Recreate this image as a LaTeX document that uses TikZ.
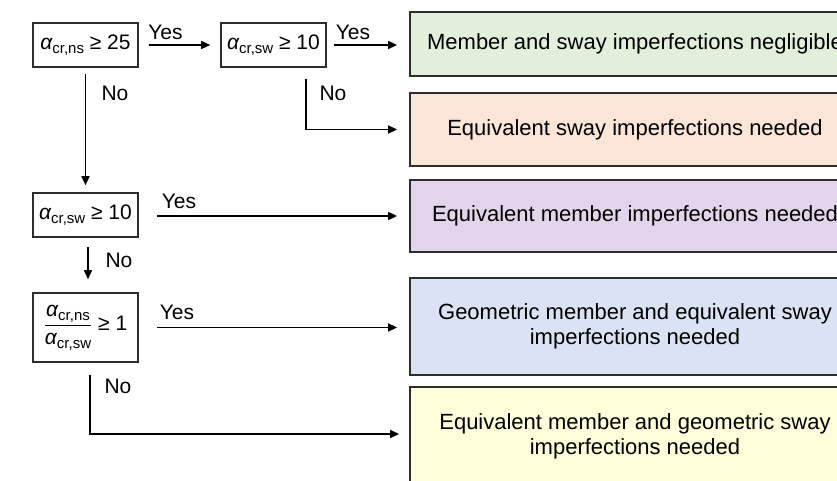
\documentclass[tikz,border=0pt]{standalone}
\usepackage{fontspec}
\setmainfont{Liberation Sans}
\usetikzlibrary{arrows.meta}
\definecolor{gfill}{RGB}{226,239,218}
\definecolor{ofill}{RGB}{251,229,214}
\definecolor{pfill}{RGB}{225,213,235}
\definecolor{bfill}{RGB}{218,227,243}
\definecolor{yfill}{RGB}{255,254,218}
\definecolor{edge}{RGB}{45,45,45}
\newcommand{\acr}[1]{{\itshape α}\raisebox{-4pt}{\fontsize{15}{17}\selectfont #1}}
\begin{document}
\begin{tikzpicture}[x=1pt,y=-1pt,
  cond/.style={draw=edge,line width=1.6pt,minimum width=105pt,inner sep=0pt,font=\fontsize{21}{25}\selectfont},
  res/.style={draw=edge,line width=1.8pt,minimum width=450pt,inner sep=0pt,align=center,font=\fontsize{22}{25}\selectfont},
  lbl/.style={inner sep=0pt,font=\fontsize{21}{24}\selectfont},
  arr/.style={line width=1.5pt,-{Triangle[length=9pt,width=8pt]}}]
\useasboundingbox (0,0) rectangle (837,481);
\clip (0,0) rectangle (837,481);
\node[cond,minimum height=44pt] (c1) at (85.5,45) {\acr{cr,ns} ≥ 25};
\node[cond,minimum height=44pt] (c2) at (273.5,45) {\acr{cr,sw} ≥ 10};
\node[cond,minimum height=44pt] (c3) at (85.5,215) {\acr{cr,sw} ≥ 10};
\node[cond,minimum height=69pt] (c4) at (85.5,327.5) {$\displaystyle\frac{\mbox{\acr{cr,ns}}}{\mbox{\acr{cr,sw}}}$ ≥ 1};
\node[res,fill=gfill,minimum height=64pt] (g) at (635,44) {Member and sway imperfections negligible};
\node[res,fill=ofill,minimum height=73pt] (o) at (635,129.5) {Equivalent sway imperfections needed};
\node[res,fill=pfill,minimum height=72pt] (p) at (635,216) {Equivalent member imperfections needed};
\node[res,fill=bfill,minimum height=97pt] (b) at (635,326.5) {Geometric member and equivalent sway\\imperfections needed};
\node[res,fill=yfill,minimum height=98pt] (yl) at (635,436) {Equivalent member and geometric sway\\imperfections needed};
\draw[arr,shorten <=10pt,shorten >=10pt] (c1.east) -- (c2.west);
\draw[arr,shorten <=7pt,shorten >=12pt] (c2.east) -- (c2.east -| g.west);
\draw[arr,shorten <=11pt,shorten >=12pt] ([xshift=32.5pt]c2.south) |- (o.west);
\draw[arr,shorten <=6pt,shorten >=7pt] (c1.south) -- (c3.north);
\draw[arr,shorten <=18pt,shorten >=12pt] (c3.east |- p.west) -- (p.west);
\draw[arr,shorten <=9pt,shorten >=13pt] ([xshift=2.5pt]c3.south) -- ([xshift=2.5pt]c4.north);
\draw[arr,shorten <=18pt,shorten >=12pt] (c4.east) -- (c4.east -| b.west);
\draw[arr,shorten <=12pt,shorten >=10pt] ([xshift=4.5pt]c4.south) |- ([yshift=2pt]yl.west);
\node[lbl] (l1) at (165.5,32) {Yes};
\node[lbl] (l2) at (353,32) {Yes};
\node[lbl] (l3) at (115,93) {No};
\node[lbl] (l4) at (333,93) {No};
\node[lbl] (l5) at (179,201) {Yes};
\node[lbl] (l6) at (119,260) {No};
\node[lbl] (l7) at (177,312) {Yes};
\node[lbl] (l8) at (118,386) {No};
\end{tikzpicture}
\end{document}
